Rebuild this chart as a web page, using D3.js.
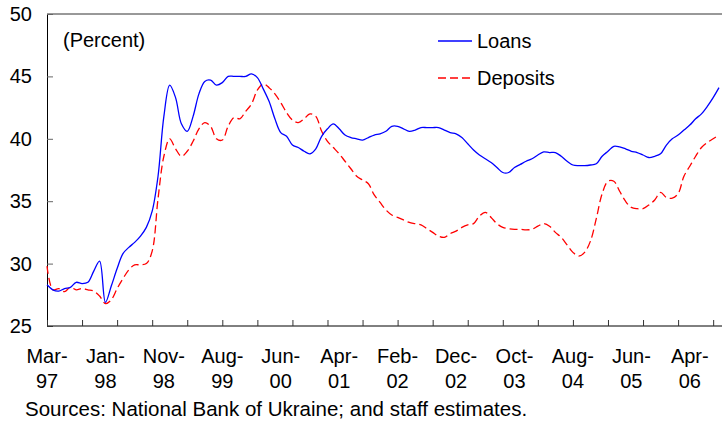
<!DOCTYPE html>
<html>
<head>
<meta charset="utf-8">
<script src="https://cdn.jsdelivr.net/npm/d3@7"></script>
<style>
  body { margin: 0; background: #fff; }
  text { font-family: "Liberation Sans", Arial, sans-serif; fill: #000; }
</style>
</head>
<body>
<svg></svg>
<script>
// monthly observations, index 0 = Mar-97
let loans = [
  28.3, 27.9, 27.8, 28.0, 28.1, 28.5, 28.4, 28.5, 29.4, 30.2,
  26.9, 28.2, 29.6, 30.8, 31.3, 31.7, 32.2, 32.9, 34.2, 37.0,
  41.8, 44.3, 43.3, 41.2, 40.6, 41.8, 43.6, 44.6, 44.7, 44.3,
  44.5, 45.0, 45.0, 45.0, 45.0, 45.2, 44.9, 44.0, 43.0, 41.6,
  40.5, 40.2, 39.5, 39.3, 39.0, 38.8, 39.2, 40.2, 40.8, 41.2,
  40.8, 40.3, 40.1, 40.0, 39.9, 40.1, 40.3, 40.4, 40.6, 41.0,
  41.0, 40.8, 40.6, 40.7, 40.9, 40.9, 40.9, 40.9, 40.7, 40.5,
  40.4, 40.1, 39.6, 39.1, 38.7, 38.4, 38.1, 37.7, 37.3, 37.3,
  37.7, 37.95, 38.2, 38.4, 38.7, 38.95, 38.9, 38.9, 38.6, 38.2,
  37.9, 37.85, 37.85, 37.9, 38.0, 38.6, 39.0, 39.4, 39.35, 39.2,
  39.0, 38.9, 38.7, 38.5, 38.6, 38.8, 39.5, 40.0, 40.3, 40.7,
  41.1, 41.6, 42.0, 42.6, 43.3, 44.1
];

let deposits = [
  29.8, 27.9, 28.0, 27.75, 28.1, 27.9, 28.0, 27.9, 27.8, 27.4,
  26.8, 27.1, 28.0, 28.8, 29.5, 29.9, 29.9, 30.0, 31.0, 35.2,
  38.6, 40.0, 39.2, 38.6, 39.0, 39.8, 40.8, 41.3, 41.0, 40.0,
  39.9, 41.0, 41.7, 41.6, 42.2, 42.8, 43.9, 44.4, 44.1, 43.6,
  42.9, 42.1, 41.5, 41.3, 41.6, 42.0, 41.8, 40.6, 39.8, 39.3,
  38.8, 38.2, 37.6, 37.0, 36.7, 36.4, 35.5, 34.9, 34.3, 33.9,
  33.7, 33.5, 33.3, 33.2, 33.1, 32.8, 32.5, 32.2, 32.1, 32.4,
  32.6, 32.9, 33.1, 33.2, 33.8, 34.1, 33.7, 33.2, 32.9, 32.8,
  32.75, 32.75, 32.7, 32.75, 33.0, 33.2, 33.0, 32.5, 32.1, 31.5,
  30.9, 30.6, 30.9, 31.8, 33.6, 35.6, 36.6, 36.6, 35.8, 35.0,
  34.5, 34.4, 34.4, 34.7, 35.1, 35.7, 35.3, 35.25, 35.6, 37.0,
  37.8, 38.6, 39.3, 39.7, 40.0, 40.3
];

let xLabels = [
  ['Mar-', '97'], ['Jan-', '98'], ['Nov-', '98'], ['Aug-', '99'],
  ['Jun-', '00'], ['Apr-', '01'], ['Feb-', '02'], ['Dec-', '02'],
  ['Oct-', '03'], ['Aug-', '04'], ['Jun-', '05'], ['Apr-', '06']
];
let yTicks = [25, 30, 35, 40, 45, 50];

// configuration of svg/plot area
let config = { 'svg': {}, 'plot': {} };
config.svg.width = 722;
config.svg.height = 421;
config.plot.left = 47;
config.plot.right = 719;
config.plot.top = 14;
config.plot.bottom = 326;

let fontSize = '20px';

let svg = d3.select('svg')
  .attr('width', config.svg.width)
  .attr('height', config.svg.height);

let x = d3.scaleLinear()
  .domain([0, loans.length - 1])
  .range([config.plot.left, config.plot.right]);

let y = d3.scaleLinear()
  .domain([25, 50])
  .range([config.plot.bottom, config.plot.top]);

// top border
svg.append('line')
  .attr('x1', config.plot.left).attr('x2', config.svg.width)
  .attr('y1', config.plot.top).attr('y2', config.plot.top)
  .attr('stroke', '#333').attr('stroke-width', 1);

// y axis
let yAxis = svg.append('g')
  .attr('transform', 'translate(' + config.plot.left + ',0)')
  .call(d3.axisRight(y).tickValues(yTicks).tickSize(6).tickFormat(''));
yAxis.select('.domain').attr('stroke', '#000');
yAxis.selectAll('.tick line').attr('stroke', '#666');

svg.append('g').selectAll('text')
  .data(yTicks)
  .join('text')
  .attr('x', 32)
  .attr('y', d => y(d) + 7)
  .attr('text-anchor', 'end')
  .style('font-size', fontSize)
  .text(d => d);

// x axis, ticks every 6 observations
let xTickVals = d3.range(0, loans.length, 6);
let xAxis = svg.append('g')
  .attr('transform', 'translate(0,' + config.plot.bottom + ')')
  .call(d3.axisTop(x).tickValues(xTickVals).tickSize(6).tickFormat('').tickSizeOuter(0));
xAxis.select('.domain').attr('stroke', '#000').attr('d', 'M' + config.plot.left + ',0H' + config.svg.width);
xAxis.selectAll('.tick line').attr('stroke', '#333');

// category labels every 10 observations
let lab = svg.append('g').selectAll('text')
  .data(xLabels)
  .join('text')
  .attr('text-anchor', 'middle')
  .style('font-size', fontSize);
lab.append('tspan')
  .attr('x', (d, i) => x(i * 10))
  .attr('y', 363)
  .text(d => d[0]);
lab.append('tspan')
  .attr('x', (d, i) => x(i * 10))
  .attr('y', 388)
  .text(d => d[1]);

// lines
let line = d3.line()
  .x((d, i) => x(i))
  .y(d => y(d))
  .curve(d3.curveCatmullRom.alpha(0.5));

svg.append('path')
  .datum(deposits)
  .attr('fill', 'none')
  .attr('stroke', '#ff0000')
  .attr('stroke-width', 1.3)
  .attr('stroke-dasharray', '8,4')
  .attr('d', line);

svg.append('path')
  .datum(loans)
  .attr('fill', 'none')
  .attr('stroke', '#0000ff')
  .attr('stroke-width', 1.3)
  .attr('d', line);

// annotation
svg.append('text')
  .attr('x', 63).attr('y', 47)
  .style('font-size', fontSize)
  .text('(Percent)');

// legend
let legend = [
  { name: 'Loans', color: '#0000ff', dash: null, y: 41 },
  { name: 'Deposits', color: '#ff0000', dash: '8,4', y: 78 }
];
let lg = svg.append('g').selectAll('g').data(legend).join('g');
lg.append('line')
  .attr('x1', 438).attr('x2', 472)
  .attr('y1', d => d.y).attr('y2', d => d.y)
  .attr('stroke', d => d.color)
  .attr('stroke-width', 1.3)
  .attr('stroke-dasharray', d => d.dash);
lg.append('text')
  .attr('x', 477).attr('y', d => d.y + 7)
  .style('font-size', fontSize)
  .text(d => d.name);

// source note
svg.append('text')
  .attr('x', 25).attr('y', 416)
  .style('font-size', '20.5px')
  .text('Sources: National Bank of Ukraine; and staff estimates.');
</script>
</body>
</html>
